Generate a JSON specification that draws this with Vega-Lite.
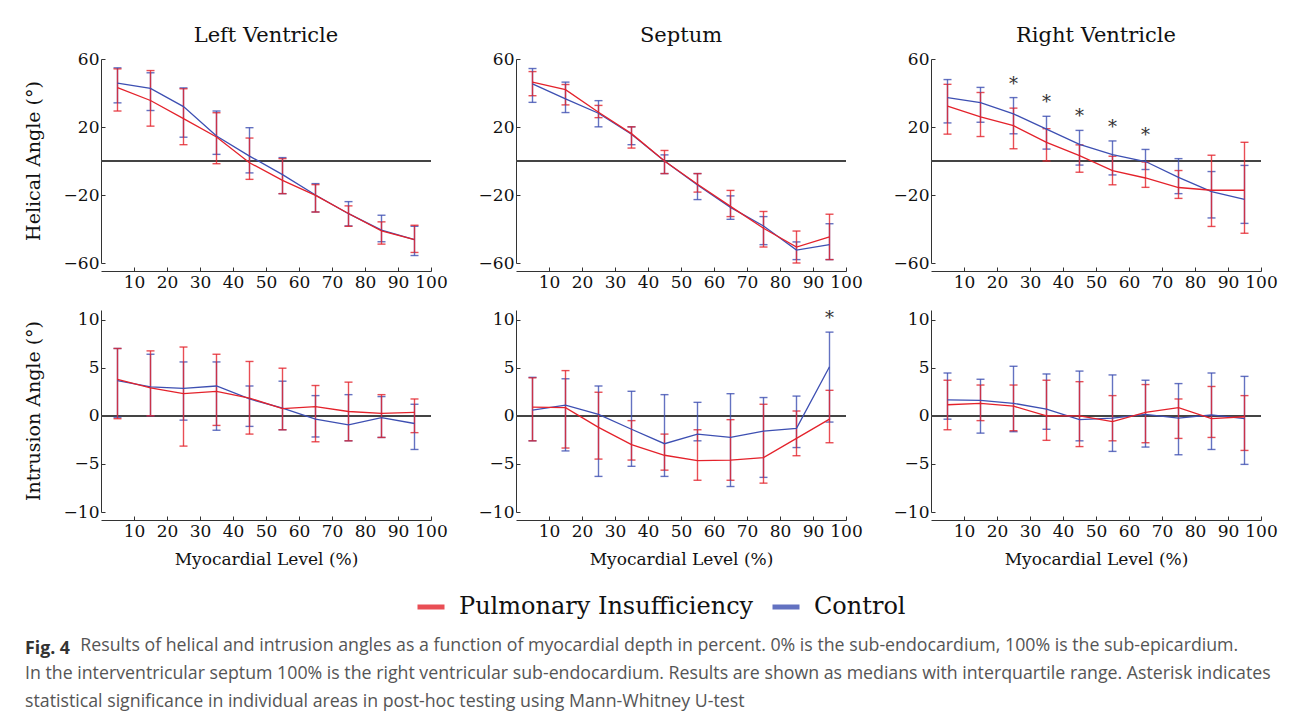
{
  "$schema": "https://vega.github.io/schema/vega-lite/v6.json",
  "padding": {"left": 24, "top": 25, "right": 10, "bottom": 5},
  "background": "white",
  "datasets": {
    "angles": [
      {"region":"Left Ventricle","measure":"Helical Angle (°)","group":"Control","level":5,"median":45.8,"q1":34.2,"q3":54.8,"sig":false},
      {"region":"Left Ventricle","measure":"Helical Angle (°)","group":"Control","level":15,"median":42.7,"q1":29.7,"q3":51.9,"sig":false},
      {"region":"Left Ventricle","measure":"Helical Angle (°)","group":"Control","level":25,"median":32,"q1":14,"q3":43,"sig":false},
      {"region":"Left Ventricle","measure":"Helical Angle (°)","group":"Control","level":35,"median":14.7,"q1":3.9,"q3":29.4,"sig":false},
      {"region":"Left Ventricle","measure":"Helical Angle (°)","group":"Control","level":45,"median":2.9,"q1":-7,"q3":19.6,"sig":false},
      {"region":"Left Ventricle","measure":"Helical Angle (°)","group":"Control","level":55,"median":-8,"q1":-19.2,"q3":2,"sig":false},
      {"region":"Left Ventricle","measure":"Helical Angle (°)","group":"Control","level":65,"median":-20,"q1":-30,"q3":-13.3,"sig":false},
      {"region":"Left Ventricle","measure":"Helical Angle (°)","group":"Control","level":75,"median":-31,"q1":-38.2,"q3":-23.9,"sig":false},
      {"region":"Left Ventricle","measure":"Helical Angle (°)","group":"Control","level":85,"median":-40.7,"q1":-47.5,"q3":-31.9,"sig":false},
      {"region":"Left Ventricle","measure":"Helical Angle (°)","group":"Control","level":95,"median":-46.2,"q1":-55.6,"q3":-38.4,"sig":false},
      {"region":"Left Ventricle","measure":"Helical Angle (°)","group":"Pulmonary Insufficiency","level":5,"median":43.2,"q1":29.4,"q3":54.2,"sig":false},
      {"region":"Left Ventricle","measure":"Helical Angle (°)","group":"Pulmonary Insufficiency","level":15,"median":35.6,"q1":20.5,"q3":53.2,"sig":false},
      {"region":"Left Ventricle","measure":"Helical Angle (°)","group":"Pulmonary Insufficiency","level":25,"median":24.9,"q1":9.6,"q3":42.5,"sig":false},
      {"region":"Left Ventricle","measure":"Helical Angle (°)","group":"Pulmonary Insufficiency","level":35,"median":14.1,"q1":-1.6,"q3":28.4,"sig":false},
      {"region":"Left Ventricle","measure":"Helical Angle (°)","group":"Pulmonary Insufficiency","level":45,"median":-1,"q1":-10.8,"q3":13.5,"sig":false},
      {"region":"Left Ventricle","measure":"Helical Angle (°)","group":"Pulmonary Insufficiency","level":55,"median":-11.4,"q1":-19.2,"q3":1.4,"sig":false},
      {"region":"Left Ventricle","measure":"Helical Angle (°)","group":"Pulmonary Insufficiency","level":65,"median":-20.2,"q1":-30,"q3":-13.9,"sig":false},
      {"region":"Left Ventricle","measure":"Helical Angle (°)","group":"Pulmonary Insufficiency","level":75,"median":-30.9,"q1":-38.4,"q3":-26.4,"sig":false},
      {"region":"Left Ventricle","measure":"Helical Angle (°)","group":"Pulmonary Insufficiency","level":85,"median":-41.1,"q1":-48.9,"q3":-35.8,"sig":false},
      {"region":"Left Ventricle","measure":"Helical Angle (°)","group":"Pulmonary Insufficiency","level":95,"median":-46.2,"q1":-53.8,"q3":-37.8,"sig":false},

      {"region":"Septum","measure":"Helical Angle (°)","group":"Control","level":5,"median":45.4,"q1":34.5,"q3":54.4,"sig":false},
      {"region":"Septum","measure":"Helical Angle (°)","group":"Control","level":15,"median":36.5,"q1":28.5,"q3":46.4,"sig":false},
      {"region":"Septum","measure":"Helical Angle (°)","group":"Control","level":25,"median":28.1,"q1":20.1,"q3":35.5,"sig":false},
      {"region":"Septum","measure":"Helical Angle (°)","group":"Control","level":35,"median":15.7,"q1":9.6,"q3":20.1,"sig":false},
      {"region":"Septum","measure":"Helical Angle (°)","group":"Control","level":45,"median":0,"q1":-7.4,"q3":3.6,"sig":false},
      {"region":"Septum","measure":"Helical Angle (°)","group":"Control","level":55,"median":-14.1,"q1":-22.7,"q3":-7.4,"sig":false},
      {"region":"Septum","measure":"Helical Angle (°)","group":"Control","level":65,"median":-27.3,"q1":-34.3,"q3":-20.5,"sig":false},
      {"region":"Septum","measure":"Helical Angle (°)","group":"Control","level":75,"median":-38.2,"q1":-49.2,"q3":-32.7,"sig":false},
      {"region":"Septum","measure":"Helical Angle (°)","group":"Control","level":85,"median":-52.4,"q1":-58,"q3":-47.6,"sig":false},
      {"region":"Septum","measure":"Helical Angle (°)","group":"Control","level":95,"median":-49.2,"q1":-58,"q3":-36.9,"sig":false},
      {"region":"Septum","measure":"Helical Angle (°)","group":"Pulmonary Insufficiency","level":5,"median":46.4,"q1":38.4,"q3":52.6,"sig":false},
      {"region":"Septum","measure":"Helical Angle (°)","group":"Pulmonary Insufficiency","level":15,"median":42,"q1":33,"q3":45,"sig":false},
      {"region":"Septum","measure":"Helical Angle (°)","group":"Pulmonary Insufficiency","level":25,"median":28.7,"q1":25.5,"q3":32.7,"sig":false},
      {"region":"Septum","measure":"Helical Angle (°)","group":"Pulmonary Insufficiency","level":35,"median":16.1,"q1":7.6,"q3":20.1,"sig":false},
      {"region":"Septum","measure":"Helical Angle (°)","group":"Pulmonary Insufficiency","level":45,"median":0,"q1":-7.4,"q3":6.2,"sig":false},
      {"region":"Septum","measure":"Helical Angle (°)","group":"Pulmonary Insufficiency","level":55,"median":-13.7,"q1":-18.3,"q3":-7.4,"sig":false},
      {"region":"Septum","measure":"Helical Angle (°)","group":"Pulmonary Insufficiency","level":65,"median":-26.7,"q1":-32.7,"q3":-17.3,"sig":false},
      {"region":"Septum","measure":"Helical Angle (°)","group":"Pulmonary Insufficiency","level":75,"median":-39.6,"q1":-50.6,"q3":-29.7,"sig":false},
      {"region":"Septum","measure":"Helical Angle (°)","group":"Pulmonary Insufficiency","level":85,"median":-50.6,"q1":-60,"q3":-41.2,"sig":false},
      {"region":"Septum","measure":"Helical Angle (°)","group":"Pulmonary Insufficiency","level":95,"median":-44.6,"q1":-58,"q3":-31.3,"sig":false},

      {"region":"Right Ventricle","measure":"Helical Angle (°)","group":"Control","level":5,"median":37.3,"q1":22.4,"q3":47.9,"sig":false},
      {"region":"Right Ventricle","measure":"Helical Angle (°)","group":"Control","level":15,"median":34.3,"q1":22.8,"q3":43.3,"sig":false},
      {"region":"Right Ventricle","measure":"Helical Angle (°)","group":"Control","level":25,"median":27.7,"q1":16,"q3":37.3,"sig":true},
      {"region":"Right Ventricle","measure":"Helical Angle (°)","group":"Control","level":35,"median":18.8,"q1":7,"q3":26.3,"sig":true},
      {"region":"Right Ventricle","measure":"Helical Angle (°)","group":"Control","level":45,"median":9.8,"q1":-2.4,"q3":18,"sig":true},
      {"region":"Right Ventricle","measure":"Helical Angle (°)","group":"Control","level":55,"median":3.8,"q1":-8.2,"q3":11.8,"sig":true},
      {"region":"Right Ventricle","measure":"Helical Angle (°)","group":"Control","level":65,"median":-0.3,"q1":-5,"q3":6.8,"sig":true},
      {"region":"Right Ventricle","measure":"Helical Angle (°)","group":"Control","level":75,"median":-9.6,"q1":-19.2,"q3":1.4,"sig":false},
      {"region":"Right Ventricle","measure":"Helical Angle (°)","group":"Control","level":85,"median":-18,"q1":-33.5,"q3":-6.2,"sig":false},
      {"region":"Right Ventricle","measure":"Helical Angle (°)","group":"Control","level":95,"median":-22.6,"q1":-36.7,"q3":-2.6,"sig":false},
      {"region":"Right Ventricle","measure":"Helical Angle (°)","group":"Pulmonary Insufficiency","level":5,"median":32.3,"q1":15.8,"q3":45.1,"sig":false},
      {"region":"Right Ventricle","measure":"Helical Angle (°)","group":"Pulmonary Insufficiency","level":15,"median":25.9,"q1":14.4,"q3":40.3,"sig":false},
      {"region":"Right Ventricle","measure":"Helical Angle (°)","group":"Pulmonary Insufficiency","level":25,"median":20.8,"q1":7.2,"q3":31.1,"sig":false},
      {"region":"Right Ventricle","measure":"Helical Angle (°)","group":"Pulmonary Insufficiency","level":35,"median":11,"q1":0,"q3":19,"sig":false},
      {"region":"Right Ventricle","measure":"Helical Angle (°)","group":"Pulmonary Insufficiency","level":45,"median":3.2,"q1":-6.6,"q3":9.5,"sig":false},
      {"region":"Right Ventricle","measure":"Helical Angle (°)","group":"Pulmonary Insufficiency","level":55,"median":-5.6,"q1":-14,"q3":2.8,"sig":false},
      {"region":"Right Ventricle","measure":"Helical Angle (°)","group":"Pulmonary Insufficiency","level":65,"median":-10,"q1":-15.5,"q3":-0.6,"sig":false},
      {"region":"Right Ventricle","measure":"Helical Angle (°)","group":"Pulmonary Insufficiency","level":75,"median":-15.6,"q1":-22,"q3":-5.6,"sig":false},
      {"region":"Right Ventricle","measure":"Helical Angle (°)","group":"Pulmonary Insufficiency","level":85,"median":-17.2,"q1":-38.5,"q3":3.4,"sig":false},
      {"region":"Right Ventricle","measure":"Helical Angle (°)","group":"Pulmonary Insufficiency","level":95,"median":-17.2,"q1":-42.5,"q3":11,"sig":false},

      {"region":"Left Ventricle","measure":"Intrusion Angle (°)","group":"Control","level":5,"median":3.65,"q1":-0.15,"q3":7.0,"sig":false},
      {"region":"Left Ventricle","measure":"Intrusion Angle (°)","group":"Control","level":15,"median":3.0,"q1":0,"q3":6.4,"sig":false},
      {"region":"Left Ventricle","measure":"Intrusion Angle (°)","group":"Control","level":25,"median":2.85,"q1":-0.45,"q3":5.6,"sig":false},
      {"region":"Left Ventricle","measure":"Intrusion Angle (°)","group":"Control","level":35,"median":3.1,"q1":-1.5,"q3":5.6,"sig":false},
      {"region":"Left Ventricle","measure":"Intrusion Angle (°)","group":"Control","level":45,"median":1.75,"q1":-1.1,"q3":3.1,"sig":false},
      {"region":"Left Ventricle","measure":"Intrusion Angle (°)","group":"Control","level":55,"median":0.8,"q1":-1.45,"q3":3.6,"sig":false},
      {"region":"Left Ventricle","measure":"Intrusion Angle (°)","group":"Control","level":65,"median":-0.35,"q1":-2.2,"q3":2.1,"sig":false},
      {"region":"Left Ventricle","measure":"Intrusion Angle (°)","group":"Control","level":75,"median":-0.95,"q1":-2.6,"q3":2.2,"sig":false},
      {"region":"Left Ventricle","measure":"Intrusion Angle (°)","group":"Control","level":85,"median":-0.2,"q1":-2.25,"q3":2.0,"sig":false},
      {"region":"Left Ventricle","measure":"Intrusion Angle (°)","group":"Control","level":95,"median":-0.8,"q1":-3.5,"q3":1.2,"sig":false},
      {"region":"Left Ventricle","measure":"Intrusion Angle (°)","group":"Pulmonary Insufficiency","level":5,"median":3.8,"q1":-0.3,"q3":7.0,"sig":false},
      {"region":"Left Ventricle","measure":"Intrusion Angle (°)","group":"Pulmonary Insufficiency","level":15,"median":2.9,"q1":0,"q3":6.75,"sig":false},
      {"region":"Left Ventricle","measure":"Intrusion Angle (°)","group":"Pulmonary Insufficiency","level":25,"median":2.3,"q1":-3.15,"q3":7.15,"sig":false},
      {"region":"Left Ventricle","measure":"Intrusion Angle (°)","group":"Pulmonary Insufficiency","level":35,"median":2.55,"q1":-1.0,"q3":6.4,"sig":false},
      {"region":"Left Ventricle","measure":"Intrusion Angle (°)","group":"Pulmonary Insufficiency","level":45,"median":1.85,"q1":-1.9,"q3":5.65,"sig":false},
      {"region":"Left Ventricle","measure":"Intrusion Angle (°)","group":"Pulmonary Insufficiency","level":55,"median":0.75,"q1":-1.45,"q3":4.95,"sig":false},
      {"region":"Left Ventricle","measure":"Intrusion Angle (°)","group":"Pulmonary Insufficiency","level":65,"median":0.95,"q1":-2.7,"q3":3.15,"sig":false},
      {"region":"Left Ventricle","measure":"Intrusion Angle (°)","group":"Pulmonary Insufficiency","level":75,"median":0.45,"q1":-2.6,"q3":3.5,"sig":false},
      {"region":"Left Ventricle","measure":"Intrusion Angle (°)","group":"Pulmonary Insufficiency","level":85,"median":0.25,"q1":-2.25,"q3":2.2,"sig":false},
      {"region":"Left Ventricle","measure":"Intrusion Angle (°)","group":"Pulmonary Insufficiency","level":95,"median":0.35,"q1":-1.75,"q3":1.75,"sig":false},

      {"region":"Septum","measure":"Intrusion Angle (°)","group":"Control","level":5,"median":0.6,"q1":-2.6,"q3":4.0,"sig":false},
      {"region":"Septum","measure":"Intrusion Angle (°)","group":"Control","level":15,"median":1.1,"q1":-3.65,"q3":3.85,"sig":false},
      {"region":"Septum","measure":"Intrusion Angle (°)","group":"Control","level":25,"median":0.15,"q1":-6.3,"q3":3.1,"sig":false},
      {"region":"Septum","measure":"Intrusion Angle (°)","group":"Control","level":35,"median":-1.4,"q1":-5.25,"q3":2.55,"sig":false},
      {"region":"Septum","measure":"Intrusion Angle (°)","group":"Control","level":45,"median":-2.9,"q1":-6.3,"q3":2.2,"sig":false},
      {"region":"Septum","measure":"Intrusion Angle (°)","group":"Control","level":55,"median":-1.9,"q1":-2.6,"q3":1.4,"sig":false},
      {"region":"Septum","measure":"Intrusion Angle (°)","group":"Control","level":65,"median":-2.25,"q1":-7.35,"q3":2.3,"sig":false},
      {"region":"Septum","measure":"Intrusion Angle (°)","group":"Control","level":75,"median":-1.6,"q1":-6.4,"q3":1.9,"sig":false},
      {"region":"Septum","measure":"Intrusion Angle (°)","group":"Control","level":85,"median":-1.3,"q1":-3.3,"q3":2.05,"sig":false},
      {"region":"Septum","measure":"Intrusion Angle (°)","group":"Control","level":95,"median":5.1,"q1":-0.65,"q3":8.7,"sig":true},
      {"region":"Septum","measure":"Intrusion Angle (°)","group":"Pulmonary Insufficiency","level":5,"median":0.9,"q1":-2.6,"q3":3.95,"sig":false},
      {"region":"Septum","measure":"Intrusion Angle (°)","group":"Pulmonary Insufficiency","level":15,"median":0.85,"q1":-3.35,"q3":4.7,"sig":false},
      {"region":"Septum","measure":"Intrusion Angle (°)","group":"Pulmonary Insufficiency","level":25,"median":-1.2,"q1":-4.5,"q3":2.45,"sig":false},
      {"region":"Septum","measure":"Intrusion Angle (°)","group":"Pulmonary Insufficiency","level":35,"median":-3.0,"q1":-4.6,"q3":-0.5,"sig":false},
      {"region":"Septum","measure":"Intrusion Angle (°)","group":"Pulmonary Insufficiency","level":45,"median":-4.1,"q1":-5.65,"q3":-1.9,"sig":false},
      {"region":"Septum","measure":"Intrusion Angle (°)","group":"Pulmonary Insufficiency","level":55,"median":-4.65,"q1":-6.7,"q3":-1.45,"sig":false},
      {"region":"Septum","measure":"Intrusion Angle (°)","group":"Pulmonary Insufficiency","level":65,"median":-4.6,"q1":-6.7,"q3":-0.4,"sig":false},
      {"region":"Septum","measure":"Intrusion Angle (°)","group":"Pulmonary Insufficiency","level":75,"median":-4.35,"q1":-7.0,"q3":1.2,"sig":false},
      {"region":"Septum","measure":"Intrusion Angle (°)","group":"Pulmonary Insufficiency","level":85,"median":-2.35,"q1":-4.15,"q3":0.5,"sig":false},
      {"region":"Septum","measure":"Intrusion Angle (°)","group":"Pulmonary Insufficiency","level":95,"median":-0.35,"q1":-2.8,"q3":2.65,"sig":false},

      {"region":"Right Ventricle","measure":"Intrusion Angle (°)","group":"Control","level":5,"median":1.65,"q1":-0.35,"q3":4.45,"sig":false},
      {"region":"Right Ventricle","measure":"Intrusion Angle (°)","group":"Control","level":15,"median":1.6,"q1":-1.8,"q3":3.8,"sig":false},
      {"region":"Right Ventricle","measure":"Intrusion Angle (°)","group":"Control","level":25,"median":1.3,"q1":-1.65,"q3":5.15,"sig":false},
      {"region":"Right Ventricle","measure":"Intrusion Angle (°)","group":"Control","level":35,"median":0.7,"q1":-1.4,"q3":4.35,"sig":false},
      {"region":"Right Ventricle","measure":"Intrusion Angle (°)","group":"Control","level":45,"median":-0.4,"q1":-2.6,"q3":4.65,"sig":false},
      {"region":"Right Ventricle","measure":"Intrusion Angle (°)","group":"Control","level":55,"median":-0.25,"q1":-3.7,"q3":4.25,"sig":false},
      {"region":"Right Ventricle","measure":"Intrusion Angle (°)","group":"Control","level":65,"median":0.15,"q1":-3.25,"q3":3.7,"sig":false},
      {"region":"Right Ventricle","measure":"Intrusion Angle (°)","group":"Control","level":75,"median":-0.25,"q1":-4.05,"q3":3.35,"sig":false},
      {"region":"Right Ventricle","measure":"Intrusion Angle (°)","group":"Control","level":85,"median":0.1,"q1":-3.5,"q3":4.45,"sig":false},
      {"region":"Right Ventricle","measure":"Intrusion Angle (°)","group":"Control","level":95,"median":-0.3,"q1":-5.05,"q3":4.1,"sig":false},
      {"region":"Right Ventricle","measure":"Intrusion Angle (°)","group":"Pulmonary Insufficiency","level":5,"median":1.15,"q1":-1.45,"q3":3.7,"sig":false},
      {"region":"Right Ventricle","measure":"Intrusion Angle (°)","group":"Pulmonary Insufficiency","level":15,"median":1.3,"q1":-0.5,"q3":3.2,"sig":false},
      {"region":"Right Ventricle","measure":"Intrusion Angle (°)","group":"Pulmonary Insufficiency","level":25,"median":1.0,"q1":-1.55,"q3":3.2,"sig":false},
      {"region":"Right Ventricle","measure":"Intrusion Angle (°)","group":"Pulmonary Insufficiency","level":35,"median":0,"q1":-2.55,"q3":3.7,"sig":false},
      {"region":"Right Ventricle","measure":"Intrusion Angle (°)","group":"Pulmonary Insufficiency","level":45,"median":0,"q1":-3.2,"q3":3.55,"sig":false},
      {"region":"Right Ventricle","measure":"Intrusion Angle (°)","group":"Pulmonary Insufficiency","level":55,"median":-0.6,"q1":-2.6,"q3":2.1,"sig":false},
      {"region":"Right Ventricle","measure":"Intrusion Angle (°)","group":"Pulmonary Insufficiency","level":65,"median":0.35,"q1":-2.8,"q3":3.25,"sig":false},
      {"region":"Right Ventricle","measure":"Intrusion Angle (°)","group":"Pulmonary Insufficiency","level":75,"median":0.85,"q1":-2.35,"q3":1.75,"sig":false},
      {"region":"Right Ventricle","measure":"Intrusion Angle (°)","group":"Pulmonary Insufficiency","level":85,"median":-0.3,"q1":-2.25,"q3":3.05,"sig":false},
      {"region":"Right Ventricle","measure":"Intrusion Angle (°)","group":"Pulmonary Insufficiency","level":95,"median":-0.1,"q1":-3.6,"q3":2.1,"sig":false}
    ]
  },
  "data": {"name": "angles"},
  "title": {
    "text": "Fig. 4",
    "subtitle": [
      "\u200b\u00a0\u00a0\u00a0\u00a0\u00a0\u00a0\u00a0\u00a0\u00a0\u00a0\u00a0\u00a0Results of helical and intrusion angles as a function of myocardial depth in percent. 0% is the sub-endocardium, 100% is the sub-epicardium.",
      "In the interventricular septum 100% is the right ventricular sub-endocardium. Results are shown as medians with interquartile range. Asterisk indicates",
      "statistical significance in individual areas in post-hoc testing using Mann-Whitney U-test"
    ],
    "orient": "bottom",
    "anchor": "start",
    "frame": "bounds",
    "font": "Open Sans",
    "fontSize": 17.75,
    "fontWeight": "bold",
    "color": "#333",
    "subtitleFont": "Open Sans",
    "subtitleFontSize": 17.75,
    "subtitleColor": "#555",
    "subtitleLineHeight": 28,
    "subtitlePadding": -21,
    "offset": 21
  },
  "vconcat": [
    {
      "transform": [{"filter": "datum.measure === 'Helical Angle (°)'"}],
      "facet": {
        "row": {"field": "measure", "type": "nominal", "header": {"title": null, "labelAngle": -90, "labelOrient": "left", "labelPadding": 10}},
        "column": {"field": "region", "type": "nominal", "sort": ["Left Ventricle", "Septum", "Right Ventricle"], "header": {"title": null, "labelPadding": 4}}
      },
      "spacing": {"column": 46},
      "resolve": {"axis": {"y": "independent"}},
      "spec": {
        "width": 330,
        "height": 204,
        "encoding": {
          "x": {"field": "level", "type": "quantitative", "scale": {"domain": [0, 100], "nice": false}, "axis": {"title": null, "values": [10,20,30,40,50,60,70,80,90,100]}},
          "color": {"field": "group", "type": "nominal", "scale": {"domain": ["Pulmonary Insufficiency", "Control"], "range": ["#e4222b", "#3d4fb2"]}, "legend": {"title": null}}
        },
        "layer": [
          {"mark": {"type": "rule", "color": "#444", "strokeWidth": 1.5}, "encoding": {"y": {"datum": 0, "type": "quantitative"}, "x": null, "color": null}},
          {"mark": {"type": "errorbar", "ticks": {"size": 8}, "thickness": 1.4, "opacity": 0.8},
           "encoding": {"y": {"field": "q1", "type": "quantitative", "scale": {"domain": [-60, 60], "nice": false}, "axis": {"title": null, "values": [-60,-40,-20,0,20,40,60]}}, "y2": {"field": "q3"}}},
          {"mark": {"type": "line", "strokeWidth": 1.3}, "encoding": {"y": {"field": "median", "type": "quantitative"}}},
          {"transform": [{"filter": "datum.sig"}], "mark": {"type": "text", "text": "*", "dy": -13, "fontSize": 18, "font": "DejaVu Serif", "color": "#333"}, "encoding": {"y": {"field": "q3", "type": "quantitative"}, "color": null}}
        ]
      }
    },
    {
      "transform": [{"filter": "datum.measure === 'Intrusion Angle (°)'"}],
      "facet": {
        "row": {"field": "measure", "type": "nominal", "header": {"title": null, "labelAngle": -90, "labelOrient": "left", "labelPadding": 10}},
        "column": {"field": "region", "type": "nominal", "sort": ["Left Ventricle", "Septum", "Right Ventricle"], "header": {"title": null, "labels": false}}
      },
      "spacing": {"column": 46},
      "resolve": {"axis": {"y": "independent"}},
      "spec": {
        "width": 330,
        "height": 202,
        "encoding": {
          "x": {"field": "level", "type": "quantitative", "scale": {"domain": [0, 100], "nice": false}, "axis": {"title": "Myocardial Level (%)", "values": [10,20,30,40,50,60,70,80,90,100]}},
          "color": {"field": "group", "type": "nominal", "scale": {"domain": ["Pulmonary Insufficiency", "Control"], "range": ["#e4222b", "#3d4fb2"]}, "legend": {"title": null}}
        },
        "layer": [
          {"mark": {"type": "rule", "color": "#444", "strokeWidth": 1.5}, "encoding": {"y": {"datum": 0, "type": "quantitative"}, "x": null, "color": null}},
          {"mark": {"type": "errorbar", "ticks": {"size": 8}, "thickness": 1.4, "opacity": 0.8},
           "encoding": {"y": {"field": "q1", "type": "quantitative", "scale": {"domain": [-10, 11], "nice": false}, "axis": {"title": null, "values": [-10,-5,0,5,10]}}, "y2": {"field": "q3"}}},
          {"mark": {"type": "line", "strokeWidth": 1.3}, "encoding": {"y": {"field": "median", "type": "quantitative"}}},
          {"transform": [{"filter": "datum.sig"}], "mark": {"type": "text", "text": "*", "dy": -13, "fontSize": 18, "font": "DejaVu Serif", "color": "#333"}, "encoding": {"y": {"field": "q3", "type": "quantitative"}, "color": null}}
        ]
      }
    }
  ],
  "spacing": 20,
  "config": {
    "view": {"stroke": null},
    "font": "DejaVu Serif",
    "axis": {
      "grid": false,
      "domainColor": "#333",
      "tickColor": "#333",
      "tickSize": -4,
      "labelFont": "DejaVu Serif",
      "labelFontSize": 17,
      "labelColor": "#111",
      "labelOverlap": false,
      "titleFont": "DejaVu Serif",
      "titleFontSize": 17,
      "titleFontWeight": "normal",
      "titleColor": "#111"
    },
    "axisX": {"labelPadding": 7, "titlePadding": 12, "labelFlush": false},
    "axisY": {"labelPadding": 6},
    "header": {
      "labelFont": "DejaVu Serif",
      "labelFontSize": 21,
      "labelColor": "#111"
    },
    "headerRow": {"labelFontSize": 19},
    "legend": {
      "orient": "none",
      "legendX": 314,
      "legendY": 532,
      "direction": "horizontal",
      "labelFont": "DejaVu Serif",
      "labelFontSize": 24,
      "labelColor": "#111",
      "labelLimit": 0,
      "labelOffset": 12,
      "symbolType": "stroke",
      "symbolStrokeWidth": 5,
      "symbolSize": 729,
      "columnPadding": 8
    }
  }
}
